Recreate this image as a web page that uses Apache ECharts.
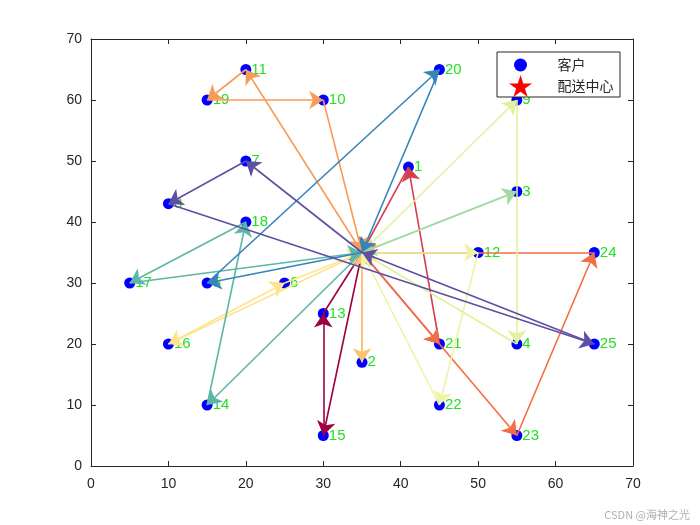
<!DOCTYPE html>
<html><head><meta charset="utf-8">
<script src="https://cdn.jsdelivr.net/npm/echarts@6/dist/echarts.min.js"></script>
<style>html,body{margin:0;padding:0;background:#fff}#c{width:700px;height:525px}</style>
</head><body><div id="c"></div>
<script>
// customer coordinates (customer i+1)
const custX = [41,35,55,55,15,25,20,10,55,30,20,50,30,15,30,10,5,20,15,45,45,45,55,65,65];
const custY = [49,17,45,20,30,30,50,43,60,60,65,35,25,10,5,20,30,40,60,65,20,10,5,35,20];
const depotX = 35, depotY = 35;
// vehicle routes (customer ids, starting and ending at depot)
const routes = [[15,13],[21,1],[21,23,24],[11,19,10],[2],[16,6],[12,22],[9,4],[3],[14,18,17],[5,20],[7,8,25]];
const routeColors = ['#9e0142','#d53e4f','#f46d43','#f99b58','#fdc272','#fee48f','#eef4a4','#e0f29c','#a5d9a3','#5db7a8','#3584ba','#5e4fa2'];
const axisTicks = [0,10,20,30,40,50,60,70];

const starPath = 'path://M100 0 L122.45 69.1 L195.1 69.1 L136.3 111.8 L158.8 180.9 L100 138.2 L41.2 180.9 L63.7 111.8 L4.9 69.1 L77.55 69.1 Z';
const font = 'Liberation Sans, Arial, Helvetica, sans-serif';
const cjk = 'Noto Sans CJK SC, sans-serif';

const custData = custX.map((x,i)=>({value:[x,custY[i]], id:i+1}));
const routeSeries = routes.map((r,k)=>{
  const pts = [[depotX,depotY]].concat(r.map(id=>[custX[id-1],custY[id-1]])).concat([[depotX,depotY]]);
  const segs = [];
  for (let i=0;i<pts.length-1;i++) segs.push({coords:[pts[i],pts[i+1]]});
  return {
    type:'lines', coordinateSystem:'cartesian2d', xAxisIndex:0, yAxisIndex:0,
    data:segs, symbol:['none','arrow'], symbolSize:[9,14],
    lineStyle:{color:routeColors[k], width:1.6, opacity:1, curveness:0},
    silent:true, animation:false, z:3
  };
});

const axBase = {type:'value', min:axisTicks[0], max:axisTicks[axisTicks.length-1], interval:10,
  splitLine:{show:false},
  axisLine:{show:true, onZero:false, lineStyle:{color:'#262626', width:1}},
  axisTick:{show:true, inside:true, length:5, lineStyle:{color:'#262626'}}};

const chart = echarts.init(document.getElementById('c'), null, {renderer:'canvas'});
chart.setOption({
  animation:false,
  backgroundColor:'#fff',
  grid:{left:91, right:67, top:39, bottom:59, containLabel:false},
  xAxis:[
    Object.assign({}, axBase, {position:'bottom', axisLabel:{color:'#262626', fontSize:14, fontFamily:font, margin:11}}),
    Object.assign({}, axBase, {position:'top', axisLabel:{show:false}})
  ],
  yAxis:[
    Object.assign({}, axBase, {position:'left', axisLabel:{color:'#262626', fontSize:14, fontFamily:font, margin:9}}),
    Object.assign({}, axBase, {position:'right', axisLabel:{show:false}})
  ],
  legend:[
    {data:['客户'], left:514, top:58, orient:'vertical', padding:0, itemWidth:64, itemHeight:13, icon:'circle', z:10,
     textStyle:{fontSize:14, fontFamily:cjk, color:'#262626'}, selectedMode:false},
    {data:['配送中心'], left:509, top:75, orient:'vertical', padding:0, itemWidth:64, itemHeight:22, icon:starPath, z:10,
     textStyle:{fontSize:14, fontFamily:cjk, color:'#262626'}, selectedMode:false}
  ],
  graphic:[
    {type:'rect', shape:{x:497, y:52, width:123, height:45}, style:{fill:'#fff', stroke:'#262626', lineWidth:1}, z:9},
    {type:'text', right:10, bottom:5, style:{text:'CSDN @海神之光', fill:'#b0b0b0', font:'11px '+cjk}, z:10}
  ],
  series:[
    {name:'客户', type:'scatter', data:custData, symbol:'circle', symbolSize:11,
     itemStyle:{color:'#0000ff', opacity:1}, z:2,
     label:{show:true, position:'right', distance:0, formatter:p=>String(p.data.id), color:'#22e022', fontSize:15, fontFamily:font}},
    {name:'配送中心', type:'scatter', data:[[depotX,depotY]], symbol:starPath, symbolSize:22,
     itemStyle:{color:'#ff0000', opacity:1}, z:2}
  ].concat(routeSeries)
});
</script></body></html>
